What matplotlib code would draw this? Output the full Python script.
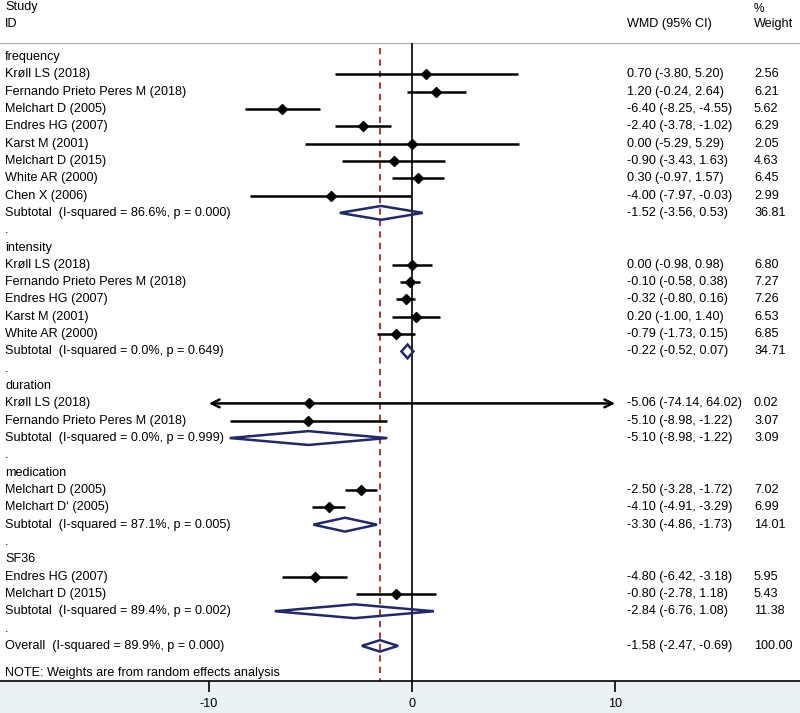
import matplotlib
matplotlib.use("Agg")
import matplotlib.pyplot as plt
import numpy as np

plt.rcParams['font.family'] = ['Liberation Sans', 'DejaVu Sans']

# study-level data, grouped by outcome
groups = ["frequency", "intensity", "duration", "medication", "SF36"]

studies = [
    ["Krøll LS (2018)", "Fernando Prieto Peres M (2018)", "Melchart D (2005)",
     "Endres HG (2007)", "Karst M (2001)", "Melchart D (2015)", "White AR (2000)",
     "Chen X (2006)"],
    ["Krøll LS (2018)", "Fernando Prieto Peres M (2018)", "Endres HG (2007)",
     "Karst M (2001)", "White AR (2000)"],
    ["Krøll LS (2018)", "Fernando Prieto Peres M (2018)"],
    ["Melchart D (2005)", "Melchart D\u2018 (2005)"],
    ["Endres HG (2007)", "Melchart D (2015)"],
]
wmd = [
    [0.70, 1.20, -6.40, -2.40, 0.00, -0.90, 0.30, -4.00],
    [0.00, -0.10, -0.32, 0.20, -0.79],
    [-5.06, -5.10],
    [-2.50, -4.10],
    [-4.80, -0.80],
]
lo = [
    [-3.80, -0.24, -8.25, -3.78, -5.29, -3.43, -0.97, -7.97],
    [-0.98, -0.58, -0.80, -1.00, -1.73],
    [-74.14, -8.98],
    [-3.28, -4.91],
    [-6.42, -2.78],
]
hi = [
    [5.20, 2.64, -4.55, -1.02, 5.29, 1.63, 1.57, -0.03],
    [0.98, 0.38, 0.16, 1.40, 0.15],
    [64.02, -1.22],
    [-1.72, -3.29],
    [-3.18, 1.18],
]
weight = [
    [2.56, 6.21, 5.62, 6.29, 2.05, 4.63, 6.45, 2.99],
    [6.80, 7.27, 7.26, 6.53, 6.85],
    [0.02, 3.07],
    [7.02, 6.99],
    [5.95, 5.43],
]

# subtotals per group
sub_i2 = [86.6, 0.0, 0.0, 87.1, 89.4]
sub_p = [0.000, 0.649, 0.999, 0.005, 0.002]
sub_wmd = [-1.52, -0.22, -5.10, -3.30, -2.84]
sub_lo = [-3.56, -0.52, -8.98, -4.86, -6.76]
sub_hi = [0.53, 0.07, -1.22, -1.73, 1.08]
sub_w = [36.81, 34.71, 3.09, 14.01, 11.38]

overall = dict(i2=89.9, p=0.000, wmd=-1.58, lo=-2.47, hi=-0.69, w=100.00)

xmin_plot, xmax_plot = -10, 10

# layout: 800x713 px, axes above the x-axis band
W, H = 800, 713
px0, ppu = 412, 20.3          # pixel of x=0, pixels per unit
row0, rstep = 57, 17.32       # pixel of first row, pixels per row
axis_px = 681

fig = plt.figure(figsize=(W / 100, H / 100), dpi=100)
fig.patch.set_facecolor("#e9f1f3")
ax = fig.add_axes([0, (H - axis_px) / H, 1, axis_px / H])
ax.set_facecolor("white")
ax.set_xlim(-px0 / ppu, (W - px0) / ppu)
ax.set_ylim((axis_px - row0) / rstep, -row0 / rstep)

def prow(p):
    return (p - row0) / rstep

fs = 9.1
tx = ax.get_yaxis_transform()
x_lab, x_ci, x_w = 5 / W, 627 / W, 754 / W

navy = "#22296b"

def diamond(y, c, l, h, half=0.4):
    ax.fill([l, c, h, c, l], [y, y - half, y, y + half, y],
            facecolor="none", edgecolor=navy, lw=1.8, zorder=4)

def row_text(y, label, c, l, h, w):
    ax.text(x_lab, y, label, transform=tx, va="center", ha="left", fontsize=fs)
    ax.text(x_ci, y, f"{c:.2f} ({l:.2f}, {h:.2f})", transform=tx,
            va="center", ha="left", fontsize=fs)
    ax.text(x_w, y, f"{w:.2f}", transform=tx, va="center", ha="left", fontsize=fs)

r = 0
for g in range(len(groups)):
    ax.text(x_lab, r, groups[g], transform=tx, va="center", ha="left", fontsize=fs)
    r += 1
    for name, c, l, h, w in zip(studies[g], wmd[g], lo[g], hi[g], weight[g]):
        lc, hc = max(l, xmin_plot), min(h, xmax_plot)
        if l < xmin_plot or h > xmax_plot:
            ax.annotate("", xy=(lc, r), xytext=(hc, r),
                        arrowprops=dict(arrowstyle="<->" if (l < xmin_plot and h > xmax_plot) else "-",
                                        lw=1.8, color="black", shrinkA=0, shrinkB=0,
                                        mutation_scale=14), zorder=3)
        else:
            ax.plot([lc, hc], [r, r], color="black", lw=1.8, zorder=3,
                    solid_capstyle="butt")
        ax.plot(c, r, marker="D", ms=5, color="black", zorder=5)
        row_text(r, name, c, l, h, w)
        r += 1
    diamond(r, sub_wmd[g], sub_lo[g], sub_hi[g])
    row_text(r, f"Subtotal  (I-squared = {sub_i2[g]:.1f}%, p = {sub_p[g]:.3f})",
             sub_wmd[g], sub_lo[g], sub_hi[g], sub_w[g])
    r += 1
    ax.text(x_lab, r, ".", transform=tx, va="center", ha="left", fontsize=fs)
    r += 1

diamond(r, overall["wmd"], overall["lo"], overall["hi"], half=0.33)
row_text(r, f"Overall  (I-squared = {overall['i2']:.1f}%, p = {overall['p']:.3f})",
         overall["wmd"], overall["lo"], overall["hi"], overall["w"])
ax.text(x_lab, r + 1.55, "NOTE: Weights are from random effects analysis",
        transform=tx, va="center", ha="left", fontsize=fs)

# headers
ax.text(x_lab, prow(7), "Study", transform=tx, va="center", fontsize=fs)
ax.text(x_lab, prow(24), "ID", transform=tx, va="center", fontsize=fs)
ax.text(x_ci, prow(24), "WMD (95% CI)", transform=tx, va="center", fontsize=fs)
ax.text(x_w, prow(9), "%", transform=tx, va="center", fontsize=fs - 0.6)
ax.text(x_w, prow(24), "Weight", transform=tx, va="center", fontsize=fs)
ax.axhline(prow(43), color="#b5b5b5", lw=1.0)

# reference lines
ybot = prow(axis_px)
ax.vlines(0, prow(43), ybot, color="black", lw=1.2, zorder=2)
ax.vlines(overall["wmd"], prow(48), ybot, color="#a8403f", lw=1.5,
          linestyles=(0, (3, 2.5)), zorder=2)

# x axis
for s in ["top", "left", "right"]:
    ax.spines[s].set_visible(False)
ax.spines["bottom"].set_linewidth(1.2)
ax.set_yticks([])
ax.set_xticks([-10, 0, 10])
ax.set_xticklabels(["-10", "0", "10"])
ax.tick_params(axis="x", length=8, width=1.2, pad=4, labelsize=fs)

fig.savefig("out.png", dpi=100, facecolor=fig.get_facecolor())
